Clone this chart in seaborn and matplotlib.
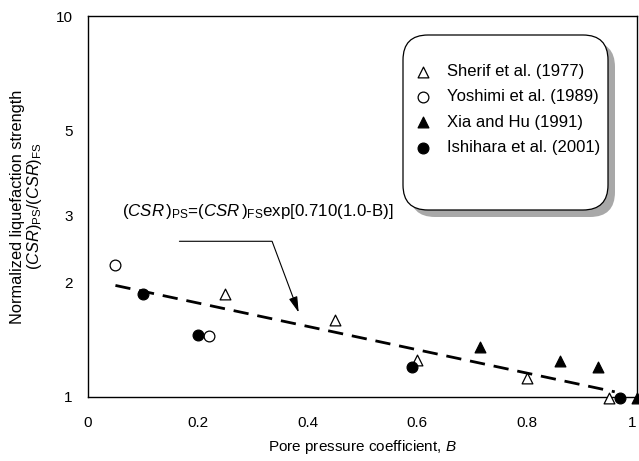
import numpy as np
import pandas as pd
import matplotlib
matplotlib.use("Agg")
import matplotlib.pyplot as plt
import seaborn as sns
from matplotlib.patches import FancyBboxPatch
from matplotlib.ticker import FixedLocator, FixedFormatter, NullFormatter

# ---------------- data ----------------
sherif_B = [0.25, 0.45, 0.60, 0.80, 0.95]
sherif_R = [1.86, 1.59, 1.25, 1.12, 0.99]

yoshimi_B = [0.05, 0.22]
yoshimi_R = [2.22, 1.44]

xia_B = [0.715, 0.86, 0.93, 1.0]
xia_R = [1.35, 1.24, 1.20, 0.99]

ishihara_B = [0.10, 0.20, 0.59, 0.97]
ishihara_R = [1.86, 1.45, 1.195, 0.99]

fit_B = [0.05, 0.96]
fit_R = [1.96, 1.03]

x_ticks = [0, 0.2, 0.4, 0.6, 0.8, 1.0]
x_tick_labels = ["0", "0.2", "0.4", "0.6", "0.8", "1"]
y_ticks = [1, 2, 3, 5, 10]
y_tick_labels = ["1", "2", "3", "5", "10"]
y_minor = [4, 6, 7, 8, 9]
x_minor = [0.1, 0.3, 0.5, 0.7, 0.9]

labels = ["Sherif et al. (1977)", "Yoshimi et al. (1989)",
          "Xia and Hu (1991)", "Ishihara et al. (2001)"]

# ---------------- style ----------------
sns.set_theme(style="white")
plt.rcParams["font.family"] = ["Liberation Sans", "DejaVu Sans"]
plt.rcParams["mathtext.fontset"] = "custom"
plt.rcParams["mathtext.rm"] = "Liberation Sans"
plt.rcParams["mathtext.it"] = "Liberation Sans:italic"
plt.rcParams["mathtext.bf"] = "Liberation Sans:bold"

W, H = 639, 461
fig = plt.figure(figsize=(W / 100, H / 100), dpi=100)
ax = fig.add_axes([88 / W, (H - 396.7) / H, (636.7 - 88) / W, (396.7 - 16) / H])
ax.set_facecolor("white")

ms = 60
common = dict(ax=ax, s=ms, linewidth=0.9, edgecolor="black", clip_on=False, zorder=5)
sns.scatterplot(x=sherif_B, y=sherif_R, marker="^", color="white", label=labels[0], **common)
sns.scatterplot(x=yoshimi_B, y=yoshimi_R, marker="o", color="white", label=labels[1], **common)
sns.scatterplot(x=xia_B, y=xia_R, marker="^", color="black", label=labels[2], **common)
sns.scatterplot(x=ishihara_B, y=ishihara_R, marker="o", color="black", label=labels[3], **common)

sns.lineplot(x=fit_B, y=fit_R, ax=ax, color="black", linewidth=2.0,
             linestyle=(0, (5.5, 3.2)), zorder=4)

ax.set_yscale("log")
ax.set_xlim(0, 1)
ax.set_ylim(1, 10)

ax.xaxis.set_major_locator(FixedLocator(x_ticks))
ax.xaxis.set_major_formatter(FixedFormatter(x_tick_labels))
ax.xaxis.set_minor_locator(FixedLocator(x_minor))
ax.yaxis.set_major_locator(FixedLocator(y_ticks))
ax.yaxis.set_major_formatter(FixedFormatter(y_tick_labels))
ax.yaxis.set_minor_locator(FixedLocator(y_minor))
ax.yaxis.set_minor_formatter(NullFormatter())

ax.tick_params(axis="both", which="both", direction="in", length=3.5, width=0.8,
               color="black", labelsize=11, labelcolor="black")
ax.tick_params(axis="x", which="both", pad=14)
ax.tick_params(axis="y", which="both", pad=11)

for sp in ax.spines.values():
    sp.set_color("black")
    sp.set_linewidth(1.0)

ax.set_xlabel("Pore pressure coefficient, $\\mathit{B}$", fontsize=11, color="black")
ax.xaxis.set_label_coords(0.5, -0.108)
ax.set_ylabel("Normalized liquefaction strength\n"
              "$(\\mathit{CSR})_{\\mathrm{PS}}/(\\mathit{CSR})_{\\mathrm{FS}}$",
              fontsize=11.8, color="black", linespacing=1.0)
ax.yaxis.set_label_coords(-0.08, 0.5)

# equation and arrow
ax.text(0.0615, 3.07,
        "$(\\mathit{CSR\\,})_{\\mathrm{PS}}$=$(\\mathit{CSR\\,})_{\\mathrm{FS}}$exp[0.710(1.0-B)]",
        fontsize=12.2, ha="left", va="center", color="black")
ax.annotate("", xy=(0.384, 1.664), xytext=(0.1666, 2.56),
            arrowprops=dict(arrowstyle="-|>,head_length=0.8,head_width=0.22",
                            connectionstyle="angle,angleA=0,angleB=110.5,rad=0",
                            color="black", lw=0.8, shrinkA=0, shrinkB=0))

# legend box with shadow (inch units -> isotropic rounding)
T = fig.dpi_scale_trans
bx0, bx1 = 4.03, 6.08
by0, by1 = (H - 210) / 100, (H - 35) / 100
shadow = FancyBboxPatch((bx0 + 0.07, by0 - 0.07), bx1 - bx0, by1 - by0,
                        boxstyle="round,pad=0,rounding_size=0.25",
                        transform=T, facecolor="#a8a8a8", edgecolor="none",
                        zorder=6, clip_on=False)
box = FancyBboxPatch((bx0, by0), bx1 - bx0, by1 - by0,
                     boxstyle="round,pad=0,rounding_size=0.25",
                     transform=T, facecolor="white", edgecolor="black",
                     linewidth=0.9, zorder=7, clip_on=False)
ax.add_artist(shadow)
ax.add_artist(box)

leg = ax.legend(loc="upper left", bbox_to_anchor=(4.15, (H - 64) / 100),
                bbox_transform=T, frameon=False, fontsize=12,
                borderpad=0, borderaxespad=0, handlelength=0.95,
                handletextpad=0.95, labelspacing=0.62, scatterpoints=1)
leg.set_zorder(8)
for t in leg.get_texts():
    t.set_color("black")

fig.canvas.draw()
xt = ax.get_xticklabels()
xt[-1].set_horizontalalignment("right")
xt[-1].set_x(1.0)

fig.savefig("out.png", dpi=100, facecolor="white")
